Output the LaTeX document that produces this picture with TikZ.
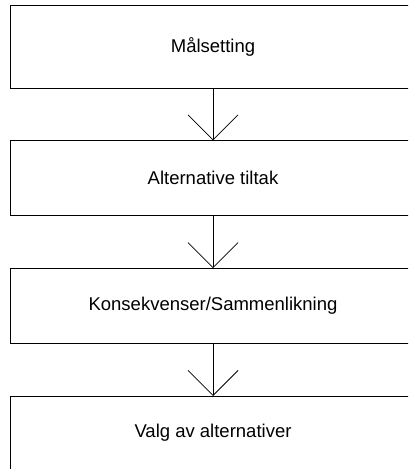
\documentclass[tikz,border=0pt]{standalone}
\usepackage{fontspec}
\setmainfont{Liberation Sans}
\usetikzlibrary{arrows.meta,positioning}

\begin{document}
\begin{tikzpicture}[x=1pt,y=1pt,node distance=52pt,
  stepbox/.style={draw,line width=0.8pt,minimum width=406pt,minimum height=#1,
                  inner sep=0pt,font=\fontsize{18.5}{21}\selectfont},stepbox/.default=75pt,
  flow/.style={-{Straight Barb[length=25pt,width=50pt,line width=0.8pt]},line width=0.8pt}]
  \useasboundingbox (0,0) rectangle (408,469);
  \clip (0,0) rectangle (408,469);
  \node[stepbox=83pt] (b1) at (213,422.5) {Målsetting};
  \node[stepbox,below=of b1] (b2) {Alternative tiltak};
  \node[stepbox,below=of b2] (b3) {Konsekvenser/Sammenlikning};
  \node[stepbox=73pt,below=of b3] (b4) {Valg av alternativer};
  \foreach \a/\b in {b1/b2,b2/b3,b3/b4}
    \draw[flow] (\a) -- (\b);
\end{tikzpicture}
\end{document}
